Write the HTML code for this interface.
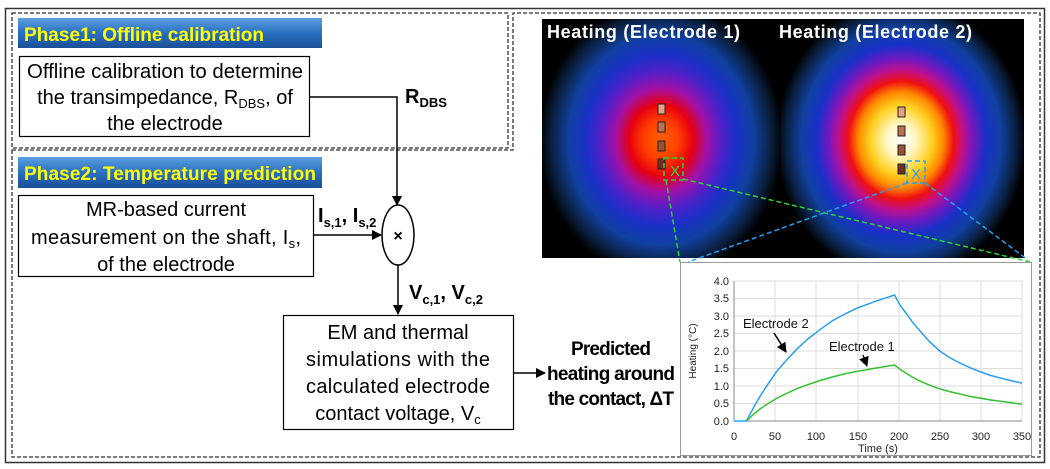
<!DOCTYPE html>
<html><head><meta charset="utf-8"><style>
html,body{margin:0;padding:0;background:#fff;}
svg{display:block;font-family:"Liberation Sans",sans-serif;}
</style></head><body>
<svg width="1050" height="469" viewBox="0 0 1050 469" xmlns="http://www.w3.org/2000/svg">
<defs>
<linearGradient id="ban" x1="0" y1="0" x2="0" y2="1">
<stop offset="0" stop-color="#5aa0e0"/><stop offset="0.5" stop-color="#2a6fc0"/><stop offset="1" stop-color="#1a4f98"/></linearGradient>
<radialGradient id="h1" cx="661" cy="140" r="1" gradientUnits="userSpaceOnUse" gradientTransform="translate(661 140) scale(122 138) translate(-661 -140)">
<stop offset="0" stop-color="#ff6000"/><stop offset="0.14" stop-color="#ff4000"/><stop offset="0.26" stop-color="#e80010"/><stop offset="0.38" stop-color="#a010a8"/><stop offset="0.5" stop-color="#5020c8"/><stop offset="0.62" stop-color="#1a30c8"/><stop offset="0.76" stop-color="#1040a0"/><stop offset="0.9" stop-color="#0a2040"/><stop offset="1" stop-color="#000"/></radialGradient>
<radialGradient id="h2" cx="901" cy="140" r="1" gradientUnits="userSpaceOnUse" gradientTransform="translate(901 140) scale(125 140) translate(-901 -140)">
<stop offset="0" stop-color="#fff"/><stop offset="0.12" stop-color="#fff6c0"/><stop offset="0.25" stop-color="#ffd020"/><stop offset="0.34" stop-color="#ff8a00"/><stop offset="0.42" stop-color="#f01010"/><stop offset="0.5" stop-color="#c0108a"/><stop offset="0.58" stop-color="#7018c0"/><stop offset="0.68" stop-color="#1830c8"/><stop offset="0.8" stop-color="#1040a0"/><stop offset="0.92" stop-color="#0a2040"/><stop offset="1" stop-color="#000"/></radialGradient>
<marker id="ar" markerWidth="10" markerHeight="10" refX="9" refY="5" orient="auto" markerUnits="userSpaceOnUse"><path d="M0,0 L10,5 L0,10 z" fill="#000"/></marker>
</defs>
<rect x="5.5" y="8.5" width="1039" height="454" fill="none" stroke="#333" stroke-width="1.5"/>
<rect x="12" y="13" width="496" height="135" fill="none" stroke="#333" stroke-width="1.3" stroke-dasharray="4,2"/>
<path d="M12,150 L513,150 L513,13 L1040,13 L1040,457 L12,457 Z" fill="none" stroke="#333" stroke-width="1.3" stroke-dasharray="4,2"/>
<rect x="18" y="18" width="304" height="30" fill="url(#ban)"/>
<text x="24" y="41" font-size="19" font-weight="bold" fill="#ffff00" textLength="240">Phase1: Offline calibration</text>
<rect x="18" y="157" width="304" height="31" fill="url(#ban)"/>
<text x="24" y="180" font-size="19" font-weight="bold" fill="#ffff00" textLength="292">Phase2: Temperature prediction</text>
<rect x="19.5" y="56.5" width="290" height="80" fill="#fff" stroke="#000" stroke-width="1.2"/>
<g font-size="20" text-anchor="middle" fill="#000">
<text x="165" y="78" textLength="276" lengthAdjust="spacingAndGlyphs">Offline calibration to determine</text>
<text x="165" y="104">the transimpedance, R<tspan font-size="13" dy="4">DBS</tspan><tspan dy="-4">, of</tspan></text>
<text x="165" y="130">the electrode</text>
</g>
<path d="M310,97 H397 V205" fill="none" stroke="#000" stroke-width="1.5" marker-end="url(#ar)"/>
<text x="405" y="103" font-size="20" font-weight="bold">R<tspan font-size="13" dy="4">DBS</tspan></text>
<rect x="18.5" y="195.5" width="295" height="81" fill="#fff" stroke="#000" stroke-width="1.2"/>
<g font-size="20" text-anchor="middle" fill="#000">
<text x="166" y="216">MR-based current</text>
<text x="166" y="244" textLength="270">measurement on the shaft, I<tspan font-size="13" dy="4">s</tspan><tspan dy="-4">,</tspan></text>
<text x="166" y="271">of the electrode</text>
</g>
<line x1="314" y1="235" x2="381" y2="235" stroke="#000" stroke-width="1.5" marker-end="url(#ar)"/>
<text x="318" y="222" font-size="20" font-weight="bold">I<tspan font-size="13" dy="5">s,1</tspan><tspan dy="-5">, I</tspan><tspan font-size="13" dy="5">s,2</tspan></text>
<ellipse cx="398" cy="235" rx="16" ry="30" fill="#fff" stroke="#000" stroke-width="1.5"/>
<text x="398" y="241" font-size="16" font-weight="bold" text-anchor="middle">×</text>
<line x1="398" y1="265" x2="398" y2="314" stroke="#000" stroke-width="1.5" marker-end="url(#ar)"/>
<text x="409" y="299" font-size="20" font-weight="bold">V<tspan font-size="13" dy="5">c,1</tspan><tspan dy="-5">, V</tspan><tspan font-size="13" dy="5">c,2</tspan></text>
<rect x="283.5" y="315.5" width="230" height="114" fill="#fff" stroke="#000" stroke-width="1.2"/>
<g font-size="20" text-anchor="middle" fill="#000">
<text x="398" y="339">EM and thermal</text>
<text x="398" y="366" textLength="184">simulations with the</text>
<text x="398" y="393" textLength="184">calculated electrode</text>
<text x="398" y="420">contact voltage, V<tspan font-size="13" dy="4">c</tspan></text>
</g>
<line x1="514" y1="373" x2="545" y2="373" stroke="#000" stroke-width="1.5" marker-end="url(#ar)"/>
<g font-size="19" font-weight="bold" text-anchor="middle">
<text x="611" y="355" textLength="80">Predicted</text>
<text x="611" y="380" textLength="128">heating around</text>
<text x="611" y="405" textLength="126">the contact, ΔT</text>
</g>
<rect x="542" y="19" width="239" height="239" fill="url(#h1)"/>
<rect x="781" y="19" width="243" height="239" fill="url(#h2)"/>
<text x="547" y="38" font-size="18" font-weight="bold" fill="#fff" textLength="193">Heating (Electrode 1)</text>
<text x="779" y="38" font-size="18" font-weight="bold" fill="#fff" textLength="193">Heating (Electrode 2)</text>
<g stroke="#222" stroke-width="1">
<rect x="658" y="104" width="7" height="10" fill="#e8a080"/><rect x="658" y="122" width="7" height="10" fill="#c07050"/><rect x="658" y="141" width="7" height="10" fill="#a05030"/><rect x="658" y="159" width="7" height="10" fill="#703020"/>
<rect x="898" y="107" width="7" height="10" fill="#e8a080"/><rect x="898" y="126" width="7" height="10" fill="#c07050"/><rect x="898" y="145" width="7" height="10" fill="#a05030"/><rect x="898" y="164" width="7" height="10" fill="#703020"/>
</g>
<g fill="none" stroke-width="1.5" stroke-dasharray="5,3">
<rect x="664" y="158" width="19" height="22" stroke="#30d030"/>
<path d="M666,180 L680,262 M683,179 L1030,262" stroke="#30d030"/>
<rect x="907" y="161" width="18" height="22" stroke="#20a0f0"/>
<path d="M907,183 L688,262 M925,183 L1028,260" stroke="#20a0f0"/>
</g>
<text x="670" y="176" font-size="15" fill="#30e030">X</text>
<text x="911" y="179" font-size="15" fill="#20a0f0">X</text>
<rect x="680.5" y="262.5" width="351" height="193" fill="#fff" stroke="#999" stroke-width="1"/>
<g stroke="#ddd" stroke-width="1">
<path d="M734,281H1022M734,298.5H1022M734,316H1022M734,333.5H1022M734,351H1022M734,368.5H1022M734,386H1022M734,403.5H1022"/>
<path d="M775,281V421M816,281V421M858,281V421M899,281V421M940,281V421M981,281V421M1022,281V421"/>
</g>
<path d="M734,281V421H1022" fill="none" stroke="#888" stroke-width="1"/>
<g font-size="11" fill="#222" text-anchor="end">
<text x="729" y="285">4.0</text><text x="729" y="302">3.5</text><text x="729" y="320">3.0</text><text x="729" y="337">2.5</text><text x="729" y="355">2.0</text><text x="729" y="372">1.5</text><text x="729" y="390">1.0</text><text x="729" y="407">0.5</text><text x="729" y="425">0.0</text>
</g>
<g font-size="11" fill="#222" text-anchor="middle">
<text x="734" y="440">0</text><text x="775" y="440">50</text><text x="816" y="440">100</text><text x="858" y="440">150</text><text x="899" y="440">200</text><text x="940" y="440">250</text><text x="981" y="440">300</text><text x="1022" y="440">350</text>
<text x="878" y="452">Time (s)</text>
</g>
<text transform="translate(696 351) rotate(-90)" font-size="10" text-anchor="middle" fill="#222">Heating (°C)</text>
<g transform="translate(734 421) scale(0.823 -35)" fill="none">
<polyline vector-effect="non-scaling-stroke" stroke="#2a9df4" stroke-width="1.5" points="0,0 15,0 20,0.22 25,0.44 32,0.72 40,1.01 52,1.42 65,1.77 77,2.07 90,2.35 105,2.62 120,2.87 135,3.06 150,3.23 172,3.42 195,3.6 202,3.3 210,3.05 217,2.82 225,2.6 237,2.28 250,2.0 262,1.81 275,1.65 287,1.52 300,1.4 312,1.3 325,1.22 337,1.15 350,1.08"/>
<polyline vector-effect="non-scaling-stroke" stroke="#30c030" stroke-width="1.5" points="15,0 20,0.11 25,0.22 32,0.35 40,0.48 52,0.65 65,0.8 77,0.93 90,1.04 105,1.16 120,1.26 135,1.35 150,1.42 172,1.51 195,1.6 202,1.47 210,1.35 217,1.25 225,1.15 237,1.03 250,0.92 262,0.84 275,0.77 287,0.7 300,0.65 312,0.6 325,0.56 337,0.52 350,0.48"/>
</g>
<text x="743" y="328" font-size="13" fill="#111">Electrode 2</text>
<text x="829" y="351" font-size="13" fill="#111">Electrode 1</text>
<line x1="774" y1="333" x2="786" y2="352" stroke="#000" stroke-width="1.5" marker-end="url(#ar)"/>
<line x1="863" y1="355" x2="867" y2="366" stroke="#000" stroke-width="1.3" marker-end="url(#ar)"/>
</svg>
</body></html>
